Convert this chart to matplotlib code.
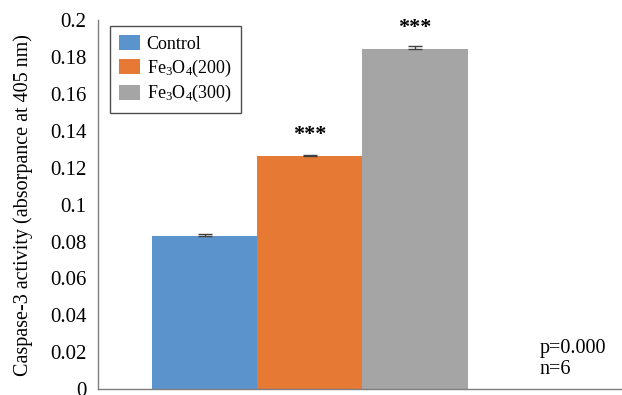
import matplotlib
matplotlib.use("Agg")
import matplotlib.pyplot as plt
from matplotlib.patches import Patch
from matplotlib.ticker import FuncFormatter

groups = ["Control", "Fe$_3$O$_4$(200)", "Fe$_3$O$_4$(300)"]
means = [0.0828, 0.1261, 0.1844]
errors = [0.0012, 0.0006, 0.0018]
stars = ["", "***", "***"]
colors = ["#5b94cc", "#e67a35", "#a5a5a5"]
yticks = [0, 0.02, 0.04, 0.06, 0.08, 0.1, 0.12, 0.14, 0.16, 0.18, 0.2]

plt.rcParams["font.family"] = ["Liberation Serif", "DejaVu Serif"]
plt.rcParams["mathtext.fontset"] = "custom"
plt.rcParams["mathtext.rm"] = "Liberation Serif"
plt.rcParams["mathtext.it"] = "Liberation Serif:italic"

fig = plt.figure(figsize=(6.22, 3.95), dpi=100)
ax = fig.add_axes([0.157, 0.015, 0.843, 0.934])

xs = [-1, 0, 1]
ax.bar(xs, means, width=1.0, color=colors, edgecolor="none", zorder=2)
# Excel style: only the upper whisker is drawn
ax.errorbar(xs, means, yerr=[[0, 0, 0], errors], fmt="none", ecolor="#404040",
            elinewidth=1.0, capsize=5, capthick=1.0, zorder=3)

for x, m, s in zip(xs, means, stars):
    if s:
        ax.text(x, m + 0.0115, s, ha="center", va="center", fontsize=16, fontweight="bold")

ax.set_xlim(-2.02, 2.97)
ax.set_ylim(0, 0.2)
ax.set_yticks(yticks)
ax.yaxis.set_major_formatter(FuncFormatter(lambda v, p: f"{v:g}"))
ax.set_xticks([])
ax.tick_params(axis="y", length=0, pad=8, labelsize=15)

for side in ["top", "right"]:
    ax.spines[side].set_visible(False)
for side in ["left", "bottom"]:
    ax.spines[side].set_color("#7f7f7f")
    ax.spines[side].set_linewidth(1.0)

ax.set_ylabel("Caspase-3 activity (absorpance at 405 nm)", fontsize=14.5, labelpad=12)

handles = [Patch(facecolor=c, edgecolor="none", label=g) for c, g in zip(colors, groups)]
leg = ax.legend(handles=handles, loc="upper left", bbox_to_anchor=(0.023, 0.983),
                fontsize=13, frameon=True, fancybox=False, handlelength=1.15,
                handleheight=0.9, handletextpad=0.4, labelspacing=0.25, borderpad=0.5,
                borderaxespad=0.0)
leg.get_frame().set_edgecolor("#222222")
leg.get_frame().set_linewidth(1.0)

fig.text(0.868, 0.092, "p=0.000\nn=6", fontsize=14.5, ha="left", va="center", linespacing=1.15)

fig.savefig("out.png", dpi=100)
